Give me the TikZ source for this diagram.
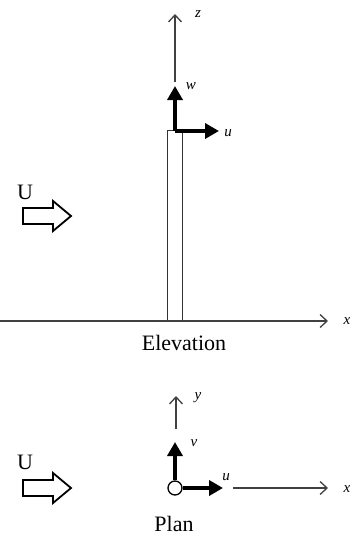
\documentclass[tikz,border=0pt]{standalone}
\usepackage{fontspec}
\setmainfont{Liberation Serif}
\usetikzlibrary{arrows.meta}

\tikzset{
    axis/.style={draw=black!75, line width=1.3pt, -{Straight Barb[length=7pt, width=13pt, line width=1.3pt]}},
    vec/.style={line width=3.5pt, -{Triangle[length=14pt, width=15pt]}},
    flow/.style={draw, line width=1.8pt, line join=miter},
    lab/.style={font=\fontsize{15}{16}\selectfont\itshape, inner sep=0pt},
    title/.style={font=\fontsize{22}{24}\selectfont, inner sep=0pt}
}
% block arrow for the incoming flow, drawn around a named coordinate
\newcommand{\flowarrow}[1]{%
    \draw[flow] ([shift={(-24,-8)}]#1) -- ([shift={(6,-8)}]#1) -- ([shift={(6,-15)}]#1)
        -- ([shift={(24,0)}]#1) -- ([shift={(6,15)}]#1) -- ([shift={(6,8)}]#1)
        -- ([shift={(-24,8)}]#1) -- cycle;}

\begin{document}
\begin{tikzpicture}[x=1pt, y=-1pt]
    \useasboundingbox (0,0) rectangle (350,538);

    % Elevation
    \coordinate (xstartE) at (0,321);
    \coordinate (xendE) at (328,321);
    \coordinate (zstart) at (175,82);
    \coordinate (zend) at (175,14);
    \node[draw=black!80, line width=1.3pt, minimum width=15pt, minimum height=190pt, inner sep=0pt,
        anchor=south] (pile) at (175,321) {};
    \coordinate (top) at (175,131);
    \coordinate (wtip) at (175,86);
    \coordinate (utipE) at (219,131);

    \draw[axis] (xstartE) -- (xendE);
    \draw[axis] (zstart) -- (zend);
    \draw[vec] (top) -- (wtip);
    \draw[vec] (top) -- (utipE);

    \node[lab] (xlabE) at (347,321) {x};
    \node[lab] (zlab) at (198,14) {z};
    \node[lab] (wlab) at (191,86) {w};
    \node[lab] (ulabE) at (228,133) {u};

    \coordinate (flowE) at (47,216);
    \flowarrow{flowE}
    \node[title] (UE) at (25,192) {U};
    \node[title] (elev) at (184,343) {Elevation};

    % Plan
    \node[draw, circle, line width=1.3pt, minimum size=14pt, inner sep=0pt] (pileP) at (175,488) {};
    \coordinate (vtip) at (175,442);
    \coordinate (utipP) at (223,488);
    \coordinate (ystart) at (176,429);
    \coordinate (yend) at (176,396);
    \coordinate (xstartP) at (233,488);
    \coordinate (xendP) at (328,488);

    \draw[vec] (pileP.north) -- (vtip);
    \draw[vec] (pileP.east) -- (utipP);
    \draw[axis] (ystart) -- (yend);
    \draw[axis] (xstartP) -- (xendP);

    \node[lab] (vlab) at (194,443) {v};
    \node[lab] (ylab) at (198,398) {y};
    \node[lab] (ulabP) at (226,477) {u};
    \node[lab] (xlabP) at (347,489) {x};

    \coordinate (flowP) at (47,488);
    \flowarrow{flowP}
    \node[title] (UP) at (25,462) {U};
    \node[title] (plan) at (174,524) {Plan};
\end{tikzpicture}
\end{document}
